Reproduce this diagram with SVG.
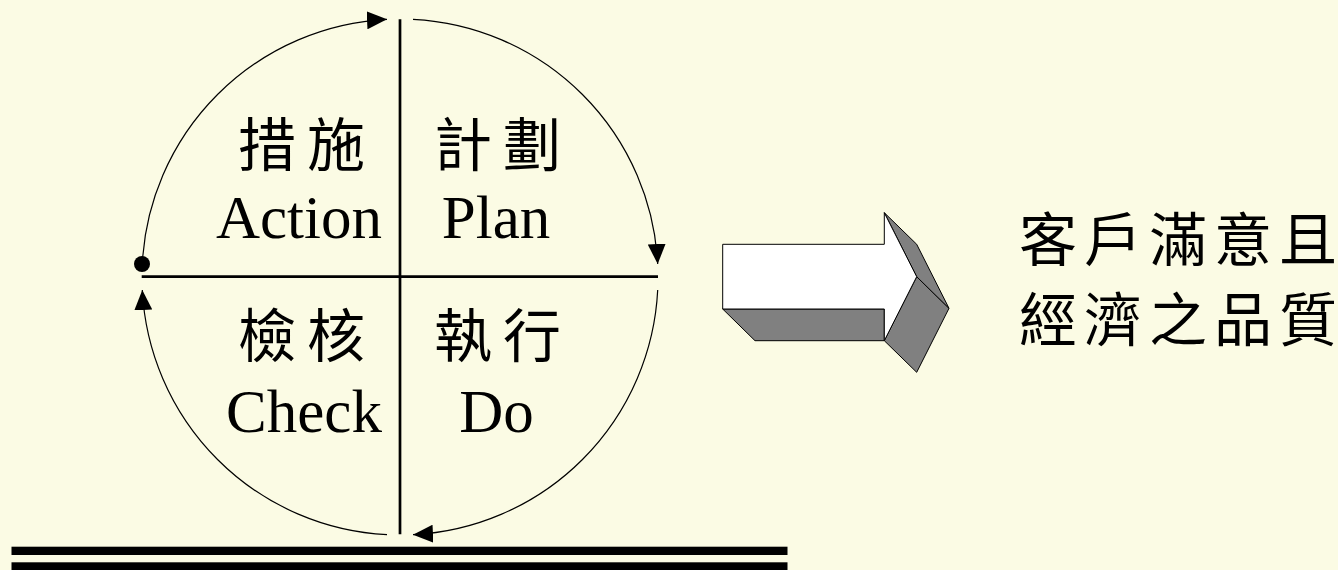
<svg xmlns="http://www.w3.org/2000/svg" width="1338" height="570" viewBox="0 0 1338 570">
  <style>
    .axis { stroke: #000; stroke-width: 2.7; fill: none; }
    .arc { stroke: #000; stroke-width: 1.2; fill: none; }
    .cjk { font-family: "Noto Sans CJK TC", "Noto Sans CJK SC", sans-serif; font-size: 58px; fill: #000; }
    .lat { font-family: "Liberation Serif", "Times New Roman", serif; font-size: 61px; fill: #000; text-anchor: middle; }
    .face-front { fill: #fff; stroke: #000; stroke-width: 1; stroke-linejoin: round; }
    .face-side { fill: #808080; stroke: #000; stroke-width: 1; stroke-linejoin: round; }
  </style>
  <defs>
    <marker id="head" viewBox="0 0 20 18" markerUnits="userSpaceOnUse" markerWidth="20" markerHeight="18" refX="20" refY="9" orient="auto">
      <path d="M0,0 L20,9 L0,18 z" fill="#000"/>
    </marker>
  </defs>

  <rect width="1338" height="570" fill="#fbfbe4"/>

  <!-- PDCA cycle: cross axes -->
  <g id="axes">
    <line class="axis" x1="400" y1="19.3" x2="400" y2="534.3"/>
    <line class="axis" x1="141.7" y1="276.7" x2="658" y2="276.7"/>
    <circle cx="142" cy="264" r="8" fill="#000"/>
  </g>

  <!-- cycle arcs, clockwise -->
  <g id="connectors">
    <path class="arc" d="M142.3,264 A258,258 0 0 1 387,19.3" marker-end="url(#head)"/>
    <path class="arc" d="M413,19.3 A258,258 0 0 1 657.7,264" marker-end="url(#head)"/>
    <path class="arc" d="M657.7,290 A258,258 0 0 1 413,534.7" marker-end="url(#head)"/>
    <path class="arc" d="M387,534.7 A258,258 0 0 1 142.3,290" marker-end="url(#head)"/>
  </g>

  <g id="action">
    <text class="cjk" x="238 307" y="166">措施</text>
    <text class="lat" x="299" y="238">Action</text>
  </g>
  <g id="plan">
    <text class="cjk" x="434 503" y="166">計劃</text>
    <text class="lat" x="496" y="238">Plan</text>
  </g>
  <g id="check">
    <text class="cjk" x="238 307" y="357">檢核</text>
    <text class="lat" x="304" y="432">Check</text>
  </g>
  <g id="do">
    <text class="cjk" x="434 503" y="357">執行</text>
    <text class="lat" x="496.5" y="432">Do</text>
  </g>

  <!-- extruded block arrow -->
  <g id="arrow">
    <polygon class="face-side" points="722.7,309 884.3,309 884.3,340.7 755,340.7"/>
    <polygon class="face-side" points="884.3,340.7 916.7,276.7 949,308.3 916.7,372.3"/>
    <polygon class="face-side" points="884.3,212.7 916.7,244.3 949,308.3 916.7,276.7"/>
    <polygon class="face-front" points="722.7,244.3 884.3,244.3 884.3,212.7 916.7,276.7 884.3,340.7 884.3,309 722.7,309"/>
  </g>

  <g id="result">
    <text class="cjk" x="1019 1084 1149 1214 1279" y="261">客戶滿意且</text>
    <text class="cjk" x="1019 1084 1149 1214 1279" y="341">經濟之品質</text>
  </g>

  <g id="base-rule">
    <rect x="11.5" y="546.7" width="776" height="8.3" fill="#000"/>
    <rect x="11.5" y="562.3" width="776" height="8.3" fill="#000"/>
  </g>
</svg>
